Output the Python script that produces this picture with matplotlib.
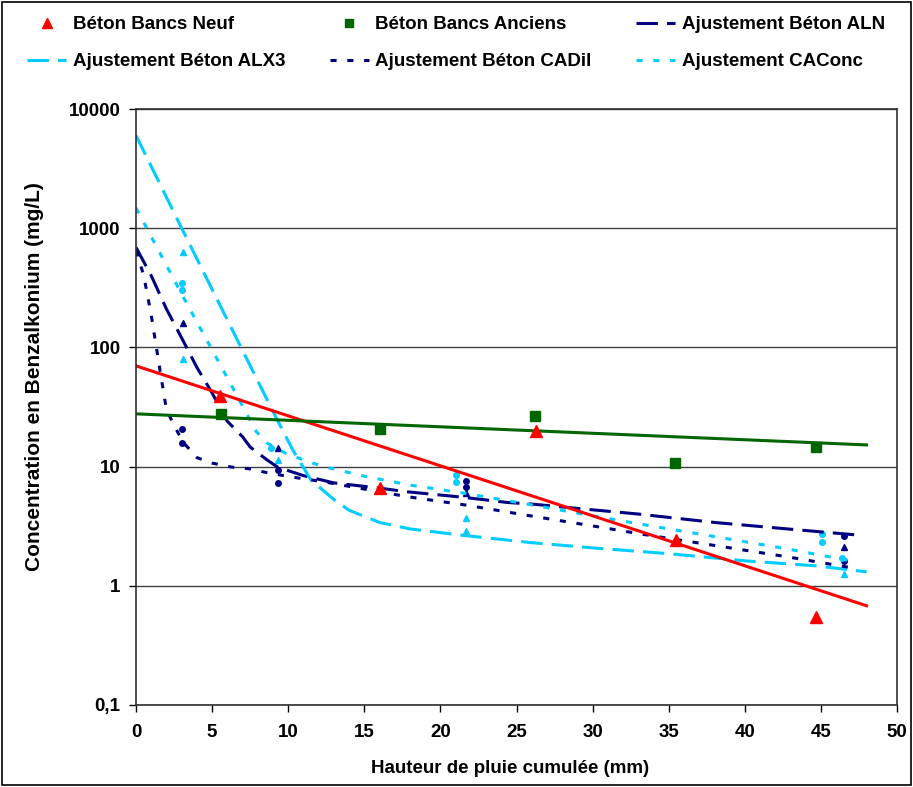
import matplotlib
matplotlib.use("Agg")
import matplotlib.pyplot as plt
from matplotlib.lines import Line2D
from matplotlib.patches import Rectangle

plt.rcParams['font.family'] = ['Liberation Sans', 'DejaVu Sans']
plt.rcParams['font.weight'] = 'bold'

# measured points
x_neuf = [5.5, 16.0, 26.3, 35.5, 44.7]
y_neuf = [39, 6.6, 20, 2.4, 0.55]
x_anciens = [5.6, 16.0, 26.2, 35.4, 44.7]
y_anciens = [27.7, 20.8, 26.7, 10.8, 14.7]

# exponential fits (straight on log axis)
x_fit = [0, 48]
fit_neuf = [70, 0.68]
fit_anciens = [27.7, 15.2]

# fitted curves from the model
x_aln = [0, 1, 2, 3, 4, 5, 6, 7, 7.5, 8.6, 9.3, 11, 13, 16, 17.8, 21.5, 24.4, 26, 30, 33, 38, 42.8, 47.2]
y_aln = [690, 400, 210, 120, 68, 41.5, 24, 17.8, 14.6, 11.4, 9.9, 8.4, 7.3, 6.6, 6.15, 5.53, 5.0, 4.85, 4.34, 4.0, 3.4, 3.0, 2.68]

x_alx3 = [0, 3, 6, 9, 10.3, 11.5, 13, 14, 16, 18, 21.5, 26, 30, 35, 40, 44.7, 48]
y_alx3 = [6000, 1000, 170, 29, 13.8, 7.7, 5.3, 4.3, 3.4, 3.0, 2.65, 2.3, 2.08, 1.86, 1.62, 1.47, 1.31]

x_cadil = [0, 0.5, 1, 1.5, 2, 2.6, 3.1, 4, 5, 6.3, 7.4, 8.6, 9.7, 11, 12.2, 17.8, 21.6, 26.3, 30, 33.1, 42.8, 47.4]
y_cadil = [650, 405, 187, 74, 30, 21, 16, 11.9, 10.7, 9.9, 9.6, 8.9, 8.4, 7.9, 7.5, 5.6, 4.77, 3.79, 3.18, 2.73, 1.75, 1.39]

x_caconc = [0, 3, 6, 7.9, 8.6, 9.9, 11, 12.2, 15, 18, 21.5, 26.3, 30, 33.1, 42.8, 47.3]
y_caconc = [1480, 280, 55.6, 19.7, 15.8, 12.8, 11.4, 10.1, 8.3, 7.0, 6.0, 4.7, 3.86, 3.3, 2.04, 1.59]

# small markers (experimental points behind the fits)
x_aln_pts = [0, 3.1, 9.3, 21.7, 46.5]
y_aln_pts = [630, 160, 14.4, 6.0, 2.1]
x_alx3_pts = [3.1, 3.1, 9.3, 21.7, 21.7, 46.5]
y_alx3_pts = [630, 80, 11.4, 3.7, 2.9, 1.26]
x_cadil_pts = [3.0, 3.0, 9.3, 9.3, 21.7, 21.7, 46.5, 46.5]
y_cadil_pts = [20.7, 15.8, 9.4, 7.3, 7.5, 6.8, 2.6, 1.6]
x_caconc_pts = [3.0, 3.0, 8.9, 21.0, 21.0, 45.1, 45.1, 46.4]
y_caconc_pts = [350, 305, 14.4, 8.5, 7.45, 2.7, 2.35, 1.7]

y_ticks = [0.1, 1, 10, 100, 1000, 10000]
y_labels = ['0,1', '1', '10', '100', '1000', '10000']
x_ticks = [0, 5, 10, 15, 20, 25, 30, 35, 40, 45, 50]

navy = '#000080'
cyan = '#00CCFF'
green = '#006600'
red = '#FF0000'

W, H = 913, 787
fig = plt.figure(figsize=(W / 100, H / 100), dpi=100)
ax = fig.add_axes([136 / W, (H - 705) / H, (897 - 136) / W, (705 - 109) / H])
ax.set_yscale('log')

long_dash = (0, (7, 3))
short_dash = (0, (2, 3.5))

ax.plot(x_aln_pts, y_aln_pts, '^', color=navy, ms=4.5, ls='none')
ax.plot(x_alx3_pts, y_alx3_pts, '^', color=cyan, ms=4.5, ls='none')
ax.plot(x_cadil_pts, y_cadil_pts, 'o', color=navy, ms=4, ls='none')
ax.plot(x_caconc_pts, y_caconc_pts, 'o', color=cyan, ms=4, ls='none')

ax.plot(x_aln, y_aln, color=navy, lw=2.2, ls=long_dash)
ax.plot(x_alx3, y_alx3, color=cyan, lw=2.2, ls=long_dash)
ax.plot(x_cadil, y_cadil, color=navy, lw=2.2, ls=short_dash)
ax.plot(x_caconc, y_caconc, color=cyan, lw=2.2, ls=short_dash)

ax.plot(x_fit, fit_neuf, color=red, lw=2.2)
ax.plot(x_fit, fit_anciens, color=green, lw=2.2)
ax.plot(x_neuf, y_neuf, '^', color=red, ms=9, ls='none')
ax.plot(x_anciens, y_anciens, 's', color=green, ms=7.5, ls='none')

ax.set_xlim(0, 50)
ax.set_ylim(0.1, 10000)
ax.set_xticks(x_ticks)
ax.set_xticklabels([str(v) for v in x_ticks])
ax.set_yticks(y_ticks)
ax.set_yticklabels(y_labels)
ax.minorticks_off()
ax.tick_params(labelsize=13.5, length=5, width=1, direction='out')
ax.tick_params(axis='x', pad=9)
ax.tick_params(axis='y', pad=6)
ax.grid(axis='y', color='#404040', lw=1)
for s in ax.spines.values():
    s.set_color('#303030')
    s.set_linewidth(1.2)

ax.set_xlabel('Hauteur de pluie cumulée (mm)', fontsize=13.5, fontweight='bold')
ax.xaxis.set_label_coords((510 - 136) / (897 - 136), -(760 - 705) / (705 - 109))
ax.set_ylabel('Concentration en Benzalkonium (mg/L)', fontsize=15, fontweight='bold')
ax.yaxis.set_label_coords(-(136 - 44) / (897 - 136), (705 - 377) / (705 - 109))

handles = [
    Line2D([], [], marker='^', color=red, ls='none', ms=7),
    Line2D([], [], color=cyan, lw=2.2, ls=long_dash),
    Line2D([], [], marker='s', color=green, ls='none', ms=6),
    Line2D([], [], color=navy, lw=2.2, ls=short_dash),
    Line2D([], [], color=navy, lw=2.2, ls=long_dash),
    Line2D([], [], color=cyan, lw=2.2, ls=short_dash),
]
labels = ['Béton Bancs Neuf', 'Ajustement Béton ALX3',
          'Béton Bancs Anciens', 'Ajustement Béton CADil',
          'Ajustement Béton ALN', 'Ajustement CAConc']
fig.legend(handles, labels, ncol=3, loc='upper left', bbox_to_anchor=(27 / W, 1 - 16 / H),
           frameon=False, fontsize=13.5, handlelength=2.1, handletextpad=0.35,
           columnspacing=2.35, labelspacing=1.07, borderpad=0, borderaxespad=0)

fig.patches.append(Rectangle((2 / W, 2 / H), 1 - 4 / W, 1 - 4 / H, transform=fig.transFigure,
                             fill=False, edgecolor='black', lw=1.2))

fig.savefig('out.png', dpi=100)
